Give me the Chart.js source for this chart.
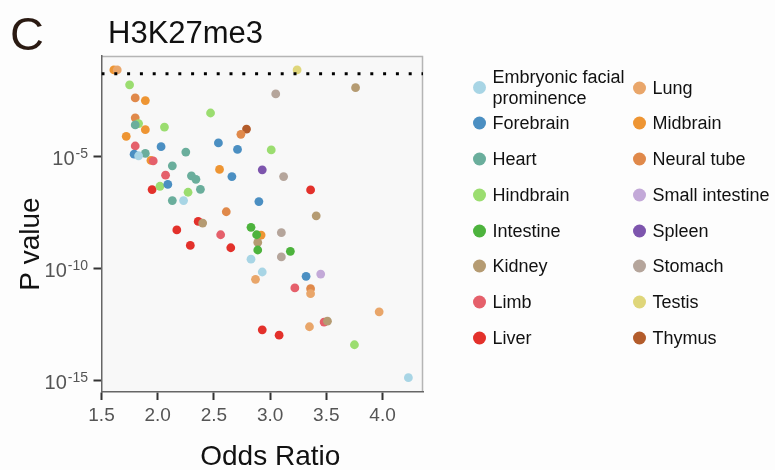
<!DOCTYPE html>
<html>
<head>
<meta charset="utf-8">
<script src="https://cdn.jsdelivr.net/npm/chart.js@4.4.0/dist/chart.umd.min.js"></script>
<style>
  body { margin: 0; background: #fdfdfd; font-family: "Liberation Sans", Arial, sans-serif; }
  #wrap { position: relative; width: 775px; height: 470px; overflow: hidden; }
  #chart { position: absolute; left: 0; top: 0; }
  .panel { position: absolute; left: 10px; top: 10px; font-size: 47px; line-height: 1; color: #2a1a12; }
  .title { position: absolute; left: 108px; top: 17px; font-size: 31px; line-height: 1; color: #111; }
  .legend-item { position: absolute; display: flex; align-items: center; transform: translateY(-50%);
    font-size: 18px; line-height: 21px; color: #111; }
  .legend-item i { width: 13px; height: 13px; border-radius: 50%; flex: none; margin-right: 7px; }
  .legend-item span { max-width: 145px; }
</style>
</head>
<body>
<div id="wrap">
  <canvas id="chart" width="775" height="470"></canvas>
  <div class="panel">C</div>
  <div class="title">H3K27me3</div>
  <div id="legend"></div>
</div>
<script>
const tissues = [
  "Embryonic facial prominence", "Forebrain", "Heart", "Hindbrain", "Intestine", "Kidney", "Limb", "Liver",
  "Lung", "Midbrain", "Neural tube", "Small intestine", "Spleen", "Stomach", "Testis", "Thymus"
];
const tissueColors = [
  "#a8d5e5", "#4b8fc2", "#6aae9c", "#9bdd70", "#4db33d", "#b59b72", "#e5606b", "#e3312b",
  "#e9a66a", "#ee9533", "#e0894a", "#c3a9d8", "#7d55ad", "#b5a59b", "#dfd67a", "#b35c2b"
];

// odds ratio and P value for every point, one list per tissue (same order as tissues)
const oddsRatios = [
  [1.83, 2.23, 2.83, 2.93, 4.23],
  [1.79, 2.03, 2.09, 2.54, 2.71, 2.66, 2.90, 3.32],
  [1.80, 1.89, 2.25, 2.13, 2.30, 2.34, 2.38, 2.13],
  [1.75, 1.83, 2.06, 2.47, 3.01, 2.02, 2.27, 3.75],
  [2.83, 2.88, 2.89, 3.18],
  [3.76, 2.40, 3.41, 2.89, 3.51],
  [1.80, 1.96, 2.07, 2.56, 3.22, 3.48],
  [1.95, 2.36, 2.17, 2.29, 2.65, 3.36, 2.93, 3.08],
  [1.64, 2.87, 3.36, 3.97, 3.35],
  [1.61, 1.89, 1.89, 1.72, 1.94, 2.55, 2.92],
  [1.80, 1.80, 2.74, 2.61, 3.36],
  [3.45],
  [2.93],
  [3.05, 3.12, 3.10, 3.10],
  [3.24],
  [2.79]
];
const pValues = [
  [1.1e-5, 1.1e-7, 2.7e-10, 7.2e-11, 1.4e-15],
  [1.3e-5, 2.8e-5, 5.8e-7, 4.1e-5, 2.1e-5, 1.3e-6, 1.0e-7, 4.6e-11],
  [2.6e-4, 1.4e-5, 1.6e-5, 3.9e-6, 1.4e-6, 9.8e-7, 3.5e-7, 1.1e-7],
  [1.6e-2, 3.0e-4, 2.1e-4, 8.9e-4, 2.0e-5, 4.8e-7, 2.6e-7, 4.1e-14],
  [7.1e-9, 3.3e-9, 6.9e-10, 6.0e-10],
  [1.2e-2, 1.1e-8, 2.3e-8, 1.5e-9, 4.6e-13],
  [3.0e-5, 6.5e-6, 1.5e-6, 3.3e-9, 1.4e-11, 4.2e-13],
  [3.4e-7, 1.3e-8, 5.4e-9, 1.1e-9, 8.7e-10, 3.3e-7, 1.9e-13, 1.1e-13],
  [7.4e-2, 3.4e-11, 7.8e-12, 1.2e-12, 2.6e-13],
  [7.4e-2, 3.2e-3, 1.6e-4, 8.1e-5, 6.8e-6, 2.7e-6, 3.2e-9],
  [4.2e-3, 5.4e-4, 1.0e-4, 3.5e-8, 1.3e-11],
  [5.8e-11],
  [2.6e-6],
  [6.3e-3, 1.3e-6, 4.1e-9, 3.4e-10],
  [7.4e-2],
  [1.7e-4]
];

const xTicks = [1.5, 2.0, 2.5, 3.0, 3.5, 4.0];
const yTicks = [1e-15, 1e-10, 1e-5];
const yTickExponents = ["-15", "-10", "-5"];
const threshold = 0.05;
const xMin = 1.5, xMax = 4.36;
const xTitle = "Odds Ratio";
const yTitle = "P value";

const FONT = '"Liberation Sans", Arial, sans-serif';

// legend, two columns of eight
const legend = document.getElementById("legend");
tissues.forEach((name, i) => {
  const item = document.createElement("div");
  item.className = "legend-item";
  item.style.left = (i < 8 ? 472.5 : 632.5) + "px";
  item.style.top = (87.5 + (i % 8) * 35.75) + "px";
  item.innerHTML = `<i style="background:${tissueColors[i]}"></i><span>${name}</span>`;
  legend.appendChild(item);
});

// panel background, light top/right frame, superscript y labels and axis titles
const plotFrame = {
  id: "plotFrame",
  beforeDraw(chart) {
    const { ctx, chartArea: a } = chart;
    ctx.save();
    ctx.fillStyle = "#f8f8f8";
    ctx.fillRect(a.left, a.top, a.right - a.left, a.bottom - a.top);
    ctx.strokeStyle = "#b5b5b5";
    ctx.lineWidth = 1.5;
    ctx.beginPath();
    ctx.moveTo(a.left, a.top + 0.5);
    ctx.lineTo(a.right - 0.5, a.top + 0.5);
    ctx.lineTo(a.right - 0.5, a.bottom);
    ctx.stroke();
    ctx.restore();
  },
  afterDraw(chart) {
    const { ctx, chartArea: a } = chart;
    const y = chart.scales.y;
    ctx.save();
    ctx.fillStyle = "#555";
    ctx.textAlign = "right";
    ctx.textBaseline = "alphabetic";
    yTicks.forEach((v, i) => {
      const py = y.getPixelForValue(v);
      ctx.font = "14px " + FONT;
      ctx.fillText(yTickExponents[i], 88, py + 1);
      const w = ctx.measureText(yTickExponents[i]).width;
      ctx.font = "20px " + FONT;
      ctx.fillText("10", 87 - w, py + 8);
    });

    ctx.fillStyle = "#111";
    ctx.font = "28px " + FONT;
    ctx.textAlign = "center";
    ctx.textBaseline = "middle";
    ctx.fillText(xTitle, (a.left + a.right) / 2 + 8, 457);
    ctx.translate(31, (a.top + a.bottom) / 2 + 20);
    ctx.rotate(-Math.PI / 2);
    ctx.fillText(yTitle, 0, 0);
    ctx.restore();
  }
};

const datasets = [{
  type: "line",
  label: "P = 0.05",
  data: [{ x: xMin, y: threshold }, { x: xMax, y: threshold }],
  borderColor: "#000",
  borderWidth: 3,
  borderDash: [3, 9.8],
  borderCapStyle: "butt",
  pointRadius: 0,
  order: 0
}];
tissues.forEach((name, i) => {
  datasets.push({
    type: "scatter",
    label: name,
    data: oddsRatios[i].map((x, j) => ({ x, y: pValues[i][j] })),
    backgroundColor: tissueColors[i],
    borderWidth: 0,
    pointRadius: 4.4,
    pointHoverRadius: 4.4,
    order: 1
  });
});

const axisGrid = { drawOnChartArea: false, drawTicks: true, tickLength: 8, tickWidth: 2, tickColor: "#333" };
const axisBorder = { display: true, color: "#666", width: 1.5 };

new Chart(document.getElementById("chart"), {
  type: "scatter",
  data: { datasets },
  options: {
    responsive: false,
    animation: false,
    devicePixelRatio: 1,
    layout: { padding: { top: 56, right: 352, bottom: 0, left: 0 } },
    plugins: { legend: { display: false }, tooltip: { enabled: false } },
    scales: {
      x: {
        type: "linear",
        min: xMin,
        max: xMax,
        afterBuildTicks: (s) => { s.ticks = xTicks.map((value) => ({ value })); },
        afterFit: (s) => { s.height = 78; },
        grid: axisGrid,
        border: axisBorder,
        ticks: { color: "#555", font: { size: 19, family: FONT }, padding: 4, callback: (v) => v.toFixed(1) }
      },
      y: {
        type: "logarithmic",
        min: 3.2e-16,
        max: 0.31,
        afterBuildTicks: (s) => { s.ticks = yTicks.map((value) => ({ value })); },
        afterFit: (s) => { s.width = 101.5; },
        grid: axisGrid,
        border: axisBorder,
        ticks: { display: false }
      }
    }
  },
  plugins: [plotFrame]
});
</script>
</body>
</html>
